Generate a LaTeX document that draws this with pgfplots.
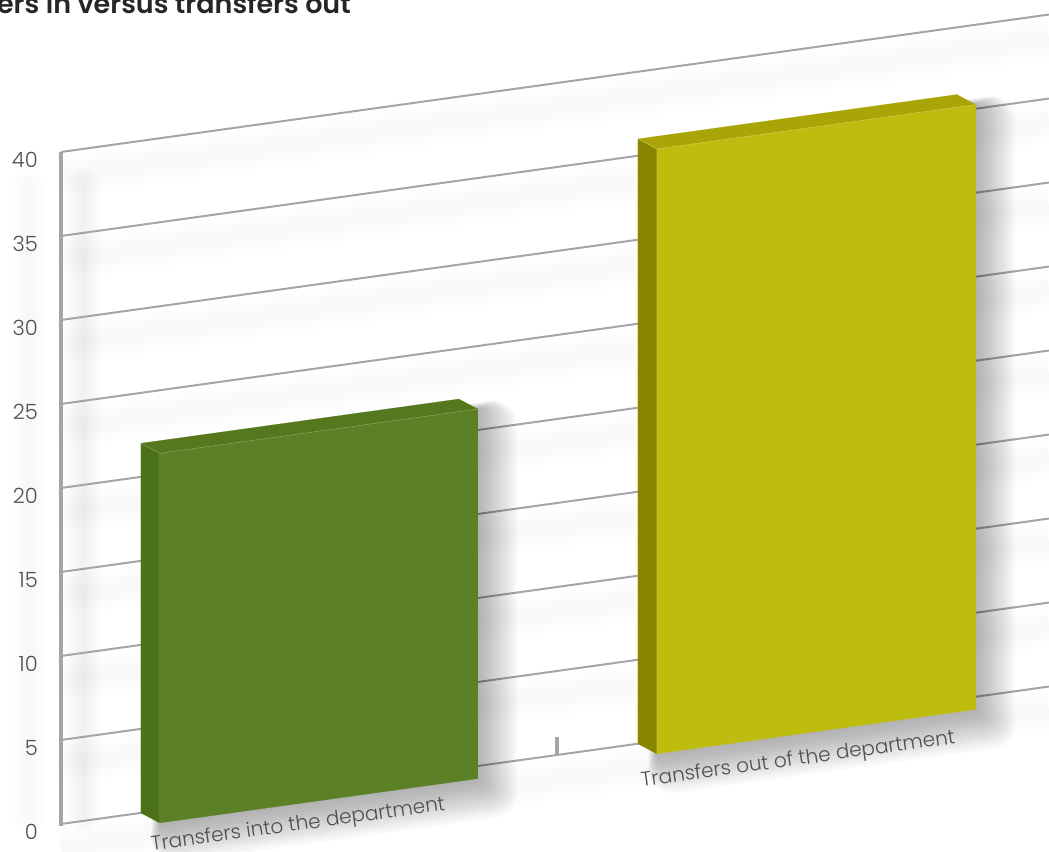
\documentclass[border=0pt]{standalone}
\usepackage{pgfplots}
\usepackage{pgfplotstable}
\usepackage{fontspec}
\pgfplotsset{compat=1.18}
\setmainfont{Poppins Light}
\newfontfamily\headfont{Poppins SemiBold}

\definecolor{gridgrey}{HTML}{A4A4A9}
\definecolor{ticktext}{HTML}{4F4F52}
\definecolor{greenfront}{HTML}{5B8026}
\definecolor{greentop}{HTML}{55781F}
\definecolor{greenside}{HTML}{4B7119}
\definecolor{olivefront}{HTML}{BFBC10}
\definecolor{olivetop}{HTML}{A9A506}
\definecolor{oliveside}{HTML}{888600}

% Horizontal grid lines, one pair of points per value, separated by nan rows.
\pgfplotstableread{
x y z
0 0 0
1.992 0 0
0 0 nan
0 0 5
1.992 0 5
0 0 nan
0 0 10
1.992 0 10
0 0 nan
0 0 15
1.992 0 15
0 0 nan
0 0 20
1.992 0 20
0 0 nan
0 0 25
1.992 0 25
0 0 nan
0 0 30
1.992 0 30
0 0 nan
0 0 35
1.992 0 35
0 0 nan
0 0 40
1.992 0 40
}\gridlines

% Faces of the two bars: x along the wall (one unit per category),
% y from the wall (0) to the front (1), z the number of transfers.
\pgfplotstableread{
x y z
0.161 1 0
0.802 1 0
0.802 1 22
0.161 1 22
0.161 1 0
}\frontA
\pgfplotstableread{
x y z
0.161 0 22
0.802 0 22
0.802 1 22
0.161 1 22
0.161 0 22
}\topA
\pgfplotstableread{
x y z
0.161 0 0
0.161 1 0
0.161 1 22
0.161 0 22
0.161 0 0
}\sideA
\pgfplotstableread{
x y z
1.163 1 0
1.806 1 0
1.806 1 36
1.163 1 36
1.163 1 0
}\frontB
\pgfplotstableread{
x y z
1.163 0 36
1.806 0 36
1.806 1 36
1.163 1 36
1.163 0 36
}\topB
\pgfplotstableread{
x y z
1.163 0 0
1.163 1 0
1.163 1 36
1.163 0 36
1.163 0 0
}\sideB

\begin{document}
\begin{tikzpicture}
\path[use as bounding box, clip] (0pt,0pt) rectangle (1049pt,851pt);
\begin{axis}[
  at={(61pt,27pt)}, anchor=origin,
  x={(496pt,69pt)}, y={(19pt,-10pt)}, z={(0pt,16.8pt)},
  xmin=0, xmax=1.992, ymin=0, ymax=1, zmin=0, zmax=40,
  hide axis, clip=false, unbounded coords=jump,
  every axis plot/.append style={mark=none},
]
% soft shadows thrown on the wall by the grid lines
\pgfplotsinvokeforeach{6,12,...,42}{
  \addplot3[draw=black, draw opacity=.005, line width=#1pt, yshift=-24pt] table {\gridlines};
}
% soft shadow of the vertical axis, and of the scale to its left
\pgfplotsinvokeforeach{5,10,...,35}{
  \addplot3[draw=black, draw opacity=.006, line width=#1pt, line cap=round, xshift=22pt, yshift=-8pt]
    coordinates {(0,0,1) (0,0,38.5)};
  \addplot3[draw=black, draw opacity=.005, line width=#1pt, line cap=round, xshift=-32pt, yshift=-8pt]
    coordinates {(0,0,1) (0,0,38.5)};
}
% grid lines
\addplot3[draw=gridgrey, line width=2pt] table {\gridlines};
% vertical axis and the category separator
\addplot3[draw=gridgrey, line width=3.6pt] coordinates {(0,0,-0.1) (0,0,40)};
\addplot3[draw=gridgrey, line width=3.5pt] coordinates {(1,0,0) (1,0,1.05)};
% drop shadows of the bars: wider strokes sit further down and to the right
\pgfplotsinvokeforeach{1,...,14}{
  \addplot3[draw=black, draw opacity=.024, line width=3.4*#1 pt, line join=round, line cap=round,
            xshift=1.1*#1 pt, yshift=-1.1*#1 pt] table {\frontA};
  \addplot3[draw=black, draw opacity=.024, line width=3.4*#1 pt, line join=round, line cap=round,
            xshift=1.1*#1 pt, yshift=-1.1*#1 pt] table {\frontB};
}
% first bar
\addplot3[fill=greenside, draw=greenside, line width=.2pt] table {\sideA};
\addplot3[fill=greentop, draw=greentop, line width=.2pt] table {\topA};
\addplot3[fill=greenfront, draw=greenfront, line width=.2pt] table {\frontA};
\addplot3[draw=white, draw opacity=.22, line width=.6pt] coordinates {(0.161,1,0) (0.161,1,22) (0.802,1,22)};
\addplot3[draw=white, draw opacity=.22, line width=.6pt] coordinates {(0.161,0,22) (0.161,1,22)};
% second bar
\addplot3[fill=oliveside, draw=oliveside, line width=.2pt] table {\sideB};
\addplot3[fill=olivetop, draw=olivetop, line width=.2pt] table {\topB};
\addplot3[fill=olivefront, draw=olivefront, line width=.2pt] table {\frontB};
\addplot3[draw=white, draw opacity=.22, line width=.6pt] coordinates {(1.163,1,0) (1.163,1,36) (1.806,1,36)};
\addplot3[draw=white, draw opacity=.22, line width=.6pt] coordinates {(1.163,0,36) (1.163,1,36)};
% value scale
\pgfplotsinvokeforeach{0,5,...,40}{
  \node[anchor=east, text=ticktext, font=\fontsize{21}{24}\selectfont, xshift=-23pt, yshift=-7.5pt, inner sep=0pt]
    at (axis cs:0,0,#1) {#1};
}
% category names
\node[rotate=7.9, text=ticktext, font=\fontsize{20}{24}\selectfont, inner sep=0pt]
  at (axis cs:0.44,1,-1.3) {Transfers into the department};
\node[rotate=7.9, text=ticktext, font=\fontsize{20}{24}\selectfont, inner sep=0pt]
  at (axis cs:1.448,1,-1.55) {Transfers out of the department};
\end{axis}
% heading
\node[anchor=base east, inner sep=0pt, text=black!85, font=\headfont\fontsize{27}{32}\selectfont]
  at (351pt,837pt) {Transfers in versus transfers out};
\end{tikzpicture}
\end{document}
